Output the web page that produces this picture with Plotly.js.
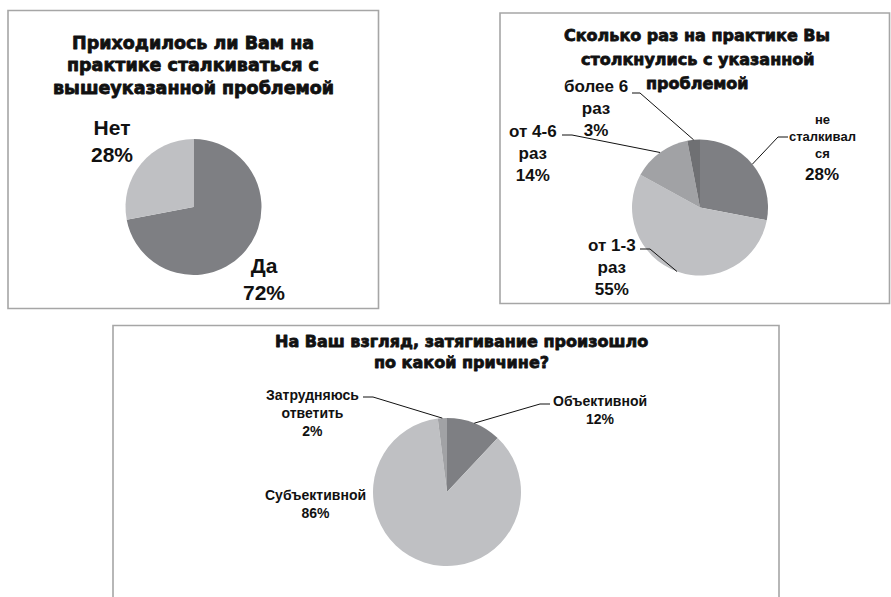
<!DOCTYPE html>
<html>
<head>
<meta charset="utf-8">
<script src="https://cdn.plot.ly/plotly-3.0.1.min.js"></script>
<style>
html,body{margin:0;padding:0;background:#fff;}
#chart{width:891px;height:597px;}
/* heavier look for the titles (Arial Black style) */
text.annotation-text[style*="DejaVu"]{stroke:#111;stroke-width:0.8px;stroke-linejoin:round;}
</style>
</head>
<body>
<div id="chart"></div>
<script>
// ---------- DATA ----------
const q1Title = ['Приходилось ли Вам на', 'практике сталкиваться с', 'вышеуказанной проблемой'];
const q1Labels = ['Да', 'Нет'];
const q1Values = [72, 28];

const q2Title = ['Сколько раз на практике Вы', 'столкнулись с указанной', 'проблемой'];
const q2Labels = ['не сталкивался', 'от 1-3 раз', 'от 4-6 раз', 'более 6 раз'];
const q2Values = [28, 55, 14, 3];

const q3Title = ['На Ваш взгляд, затягивание произошло', 'по какой причине?'];
const q3Labels = ['Объективной', 'Субъективной', 'Затрудняюсь ответить'];
const q3Values = [12, 86, 2];

// ---------- LAYOUT / STYLE ----------
const W = 891, H = 597;
const px = x => x / W;
const py = y => 1 - y / H;

const DARK = '#7e7f83', LIGHT = '#bfc0c3', MID = '#a1a2a5', DARKER = '#6f7073';
const TITLE_FONT = {family: '"DejaVu Sans", sans-serif', weight: 700, color: '#111'};
const LABEL_FONT = {family: '"Liberation Sans", Arial, sans-serif', weight: 700, color: '#111'};

const pies = [
  {cx: 193.5, cy: 207, r: 68, labels: q1Labels, values: q1Values, colors: [DARK, LIGHT]},
  {cx: 700, cy: 207.5, r: 68, labels: q2Labels, values: q2Values, colors: [DARK, LIGHT, MID, DARKER]},
  {cx: 447, cy: 492, r: 74, labels: q3Labels, values: q3Values, colors: [DARK, LIGHT, MID]}
];

const data = pies.map(p => ({
  type: 'pie',
  labels: p.labels,
  values: p.values,
  sort: false,
  direction: 'clockwise',
  rotation: 0,
  textinfo: 'none',
  hoverinfo: 'label+percent',
  showlegend: false,
  marker: {colors: p.colors, line: {width: 0}},
  domain: {x: [px(p.cx - p.r), px(p.cx + p.r)], y: [py(p.cy + p.r), py(p.cy - p.r)]}
}));

// point on the pie edge at the middle of slice i
function edge(p, i) {
  const total = p.values.reduce((a, b) => a + b, 0);
  let cum = 0;
  for (let k = 0; k < i; k++) cum += p.values[k];
  const th = (cum + p.values[i] / 2) / total * 2 * Math.PI;
  return [p.cx + p.r * Math.sin(th), p.cy - p.r * Math.cos(th)];
}

const annotations = [];
function addText(text, x, y, size, font) {
  annotations.push({
    xref: 'paper', yref: 'paper', x: px(x), y: py(y),
    xanchor: 'center', yanchor: 'middle', showarrow: false,
    text: text, align: 'center',
    font: Object.assign({}, font, {size: size})
  });
}
function addTitle(lines, x, ys, size) {
  lines.forEach((t, i) => addText(t, x, ys[i], size, TITLE_FONT));
}

addTitle(q1Title, 193, [43, 65, 88], 17.5);
addTitle(q2Title, 697, [35, 60, 84], 16);
addTitle(q3Title, 461, [341, 362], 16);

const pct = v => v + '%';

// Chart 1 labels
addText(q1Labels[1] + '<br>' + pct(q1Values[1]), 112, 141, 21, LABEL_FONT);
addText(q1Labels[0] + '<br>' + pct(q1Values[0]), 264, 278.5, 21, LABEL_FONT);

// Chart 2 labels
addText('не<br>сталкивал<br>ся', 822, 136.5, 13, LABEL_FONT);
addText(pct(q2Values[0]), 822, 175, 17, LABEL_FONT);
addText('от 1-3<br>раз<br>' + pct(q2Values[1]), 612, 267, 17, LABEL_FONT);
addText('от 4-6<br>раз<br>' + pct(q2Values[2]), 533, 153.5, 17, LABEL_FONT);
addText('более 6<br>раз<br>' + pct(q2Values[3]), 596, 109, 17, LABEL_FONT);

// Chart 3 labels
addText(q3Labels[0] + '<br>' + pct(q3Values[0]), 600, 410, 14, LABEL_FONT);
addText('Субъективной<br>' + pct(q3Values[1]), 315, 504, 14, LABEL_FONT);
addText('Затрудняюсь<br>ответить<br>' + pct(q3Values[2]), 312, 413, 14, LABEL_FONT);

// Leader lines: horizontal stub near label, then to slice edge
const leaders = [
  {pie: 1, i: 0, x1: 788, x2: 778, y: 137},
  {pie: 1, i: 1, x1: 640, x2: 650, y: 249},
  {pie: 1, i: 2, x1: 562, x2: 572, y: 135},
  {pie: 1, i: 3, x1: 632, x2: 640, y: 93},
  {pie: 2, i: 0, x1: 550, x2: 540, y: 404},
  {pie: 2, i: 2, x1: 363, x2: 373, y: 397}
];

const shapes = [];
const BOX = '#a6a6a6';
function box(x0, y0, x1, y1) {
  shapes.push({type: 'rect', xref: 'paper', yref: 'paper',
    x0: px(x0), x1: px(x1), y0: py(y1), y1: py(y0),
    line: {color: BOX, width: 1.6}, fillcolor: 'rgba(0,0,0,0)', layer: 'below'});
}
box(8, 10.5, 378.5, 308.5);
box(500, 13, 889.5, 303.5);
box(113, 325.5, 779, 605);

leaders.forEach(l => {
  const e = edge(pies[l.pie], l.i);
  shapes.push({type: 'path', xref: 'paper', yref: 'paper',
    path: `M ${px(l.x1)} ${py(l.y)} L ${px(l.x2)} ${py(l.y)} L ${px(e[0])} ${py(e[1])}`,
    line: {color: '#111', width: 1}});
});

const layout = {
  width: W, height: H,
  margin: {l: 0, r: 0, t: 0, b: 0},
  paper_bgcolor: '#ffffff',
  plot_bgcolor: '#ffffff',
  annotations: annotations,
  shapes: shapes
};

Plotly.newPlot('chart', data, layout, {displayModeBar: false, staticPlot: true});
</script>
</body>
</html>
